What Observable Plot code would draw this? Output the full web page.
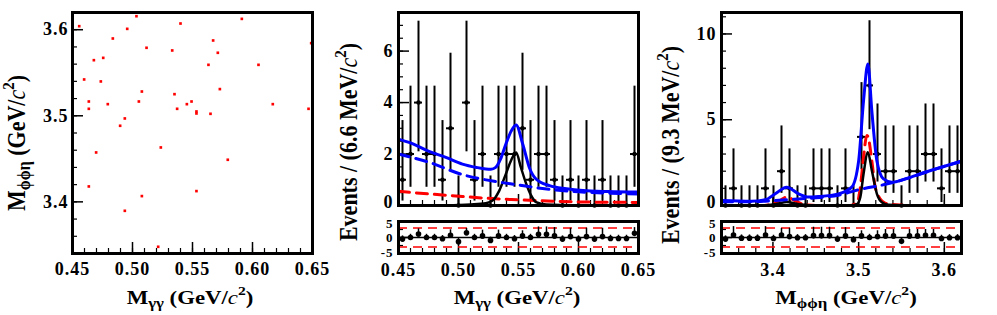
<!DOCTYPE html>
<html><head><meta charset="utf-8">
<script src="https://cdn.jsdelivr.net/npm/d3@7"></script>
<script src="https://cdn.jsdelivr.net/npm/@observablehq/plot@0.6"></script>
<style>
body{margin:0;background:#fff;}
#c{position:relative;width:997px;height:315px;overflow:hidden;background:#fff;}
.p{position:absolute;}
.t{position:absolute;font-family:"Liberation Serif",serif;font-weight:bold;font-size:19px;white-space:nowrap;line-height:1;color:#000;}
.t sub{font-size:14px;vertical-align:-4px;line-height:0;}
.t sup{font-size:13px;vertical-align:9px;line-height:0;}
.t i{font-weight:normal;}
.ty{font-size:22px;}
.ty sub{font-size:16px;}
.ty sup{font-size:15px;vertical-align:10px;}
</style></head>
<body><div id="c"></div>
<script>
// ---------- data ----------
const scatterMgg = [0.4556,0.5033,0.5400,0.5911,0.4956,0.4836,0.5117,0.5331,0.5672,0.5711,0.6489,0.4678,0.4756,0.5633,0.6050,0.4597,0.4736,0.5078,0.5350,0.5728,0.4636,0.5053,0.5492,0.4794,0.5453,0.6169,0.4636,0.5372,0.5533,0.5533,0.5650,0.6467,0.4936,0.4897,0.4697,0.5236,0.5794,0.4636,0.5533,0.5078,0.4936,0.5214];
const scatterMphi = [3.6041,3.6157,3.6072,3.6126,3.6010,3.5898,3.5790,3.5759,3.5875,3.5732,3.5844,3.5646,3.5673,3.5592,3.5592,3.5422,3.5399,3.5282,3.5251,3.5310,3.5166,3.5166,3.5166,3.5135,3.5135,3.5135,3.5081,3.5081,3.5050,3.5027,3.5023,3.5081,3.4969,3.4884,3.4574,3.4632,3.4489,3.4179,3.4125,3.4067,3.3896,3.3478];

const mggRange = [0.45, 0.65];
const mphiRange = [3.34, 3.62];
const midCounts = [1,2,4,2,2,1,3,0,4,1,2,0,2,2,2,3,1,2,2,1,0,1,0,1,0,1,0,0,0,2];
const rightCounts = [0,1,0,0,0,1,0,2,1,0,0,1,1,1,0,1,0,4,7,3,2,2,0,2,2,3,3,1,2,2];
// Poisson 68% interval bounds for n = 0..7
const poisLo = [0,0.173,0.708,1.367,2.086,2.840,3.620,4.419];
const poisHi = [1.148,3.300,4.638,5.918,7.163,8.382,9.584,10.77];

const midPull   = [-0.5,0,1.1,0,0,-0.4,0.7,-1.3,1.5,0,0.5,-0.9,0.5,0,-0.4,0.5,0,1.0,1.0,0.5,-0.5,0.3,-0.5,0.3,-0.5,0.3,-0.3,-0.3,-0.3,1.3];
const midPullUp = [1,1,1.6,1,1,1,1.7,1,1.3,1,1.8,1,1.8,1,1,1.6,1,2.3,2.3,2.6,1,2.6,1,2.6,1,2.6,1,1,1,1.8];
const rightPull   = [-0.5,0.8,-0.2,-0.2,-0.2,0.8,-0.3,0.8,0.3,-0.1,-0.1,0.6,0.6,0.6,-0.5,0.5,-0.7,0.5,0,0.3,0.5,0.5,-1.2,0.5,0.5,0.7,0.7,-0.3,-0.1,-0.1];
const rightPullUp = [1,2.6,1,1,1,2.6,1,2.0,2.6,1,1,2.6,2.6,2.6,1,2.6,1,1.6,1,1.8,2.0,2.0,1,2.0,2.0,1.8,1.8,1,1,1];

const midTotal = [[0.45,2.58],[0.46,2.43],[0.4754,2.10],[0.49,1.86],[0.5033,1.61],[0.515,1.48],[0.5228,1.42],[0.527,1.41],[0.531,1.48],[0.535,1.8],[0.5395,2.39],[0.544,2.9],[0.548,3.13],[0.5535,2.39],[0.559,1.48],[0.5646,1.03],[0.5758,0.77],[0.59,0.65],[0.6037,0.58],[0.625,0.54],[0.65,0.52]];
const midBkg = [[0.45,2.0],[0.4754,1.68],[0.5033,1.2],[0.531,0.93],[0.55,0.8],[0.57,0.66],[0.60,0.53],[0.625,0.48],[0.65,0.45]];
const midRed = [[0.45,0.55],[0.4754,0.45],[0.5033,0.35],[0.531,0.26],[0.55,0.22],[0.5646,0.19],[0.60,0.14],[0.65,0.12]];
const midSig = [[0.45,0],[0.49,0.01],[0.51,0.04],[0.5228,0.09],[0.5284,0.19],[0.534,0.58],[0.5395,1.23],[0.544,1.77],[0.548,2.06],[0.552,1.48],[0.556,0.9],[0.5605,0.39],[0.5646,0.13],[0.573,0.04],[0.60,0.01],[0.65,0]];

const rightTotal = [[3.34,0.29],[3.375,0.25],[3.391,0.33],[3.4027,0.68],[3.416,1.07],[3.4299,0.68],[3.4416,0.49],[3.453,0.52],[3.4765,0.68],[3.492,1.07],[3.500,2.6],[3.5057,6.1],[3.5108,8.25],[3.5154,5.5],[3.5213,2.6],[3.529,1.55],[3.5387,1.36],[3.5543,1.55],[3.5777,1.94],[3.62,2.58]];
const rightBkg = [[3.34,0.22],[3.37,0.22],[3.40,0.28],[3.43,0.38],[3.45,0.45],[3.4765,0.6],[3.50,0.92],[3.53,1.22],[3.555,1.55],[3.58,1.97],[3.62,2.58]];
const rightRed = [[3.34,0],[3.39,0],[3.40,0.1],[3.41,0.35],[3.416,0.5],[3.425,0.3],[3.435,0.08],[3.45,0],[3.49,0],[3.4985,0.2],[3.502,1.07],[3.5057,2.8],[3.5095,4.08],[3.511,4.0],[3.5154,2.6],[3.519,1.17],[3.525,0.39],[3.531,0.14],[3.543,0.04],[3.56,0],[3.62,0]];
const rightSig = [[3.34,0],[3.39,0],[3.405,0.1],[3.416,0.2],[3.43,0.08],[3.45,0],[3.49,0],[3.4985,0.1],[3.502,0.49],[3.5057,1.84],[3.5108,3.1],[3.5154,2.04],[3.5213,0.68],[3.527,0.19],[3.535,0.04],[3.56,0],[3.62,0]];

// tick values
const mggMajor = [0.45,0.50,0.55,0.60,0.65];
const mggMinor = d3.range(0.45,0.6501,0.01);
const mphiMajor = [3.4,3.5,3.6];
const mphiMinor = d3.range(3.34,3.6201,0.02);
const midYMajor = [0,2,4,6];
const midYMinor = d3.range(0,7.51,0.5);
const rightYMajor = [0,5,10];
const rightYMinor = d3.range(0,11.1,1);
const pullMajor = [-5,0,5];
const pullMinor = d3.range(-5,5.1,2.5);

// ---------- helpers ----------
const root = document.getElementById("c");
const baseStyle = {fontFamily:"Liberation Serif, serif",fontSize:"18px",fontWeight:"bold",letterSpacing:"1px",background:"transparent",overflow:"visible",color:"#000"};
function place(svg,left,top){svg.classList.add("p");svg.style.left=left+"px";svg.style.top=top+"px";root.appendChild(svg);}
function ticks(xMaj,xMin,yMaj,yMin,fw,fh){
  return [
    Plot.ruleX(xMaj,{x:d=>d,insetTop:fh-11,stroke:"#000",strokeWidth:1.5}),
    Plot.ruleX(xMin,{x:d=>d,insetTop:fh-5,stroke:"#000",strokeWidth:1.2}),
    Plot.ruleY(yMaj,{y:d=>d,insetRight:fw-11,stroke:"#000",strokeWidth:1.5}),
    Plot.ruleY(yMin,{y:d=>d,insetRight:fw-5,stroke:"#000",strokeWidth:1.2})
  ];
}
function mkBins(range,counts){
  const w=(range[1]-range[0])/counts.length;
  return counts.map((n,i)=>({x:range[0]+(i+0.5)*w,x1:range[0]+i*w,x2:range[0]+(i+1)*w,n,lo:poisLo[n],hi:poisHi[n]}));
}
function mkPulls(range,pull,up){
  const w=(range[1]-range[0])/pull.length;
  return pull.map((p,i)=>({x:range[0]+(i+0.5)*w,p,a:p-(p>0?1:0.3),b:p+up[i]}));
}
const toObj = arr => arr.map(([x,y])=>({x,y}));
const fmtInt = d=>String(d);

// ---------- left scatter ----------
{
  const W=330,H=315,mL=72,mR=18,mT=12,mB=62;
  place(Plot.plot({
    width:W,height:H,marginLeft:mL,marginRight:mR,marginTop:mT,marginBottom:mB,
    style:baseStyle,
    x:{domain:mggRange},y:{domain:mphiRange},
    marks:[
      Plot.axisX(mggMajor,{tickSize:0,tickPadding:9,tickFormat:d3.format(".2f"),label:null}),
      Plot.axisY(mphiMajor,{tickSize:0,tickPadding:4,tickFormat:d3.format(".1f"),label:null}),
      ...ticks(mggMajor,mggMinor,mphiMajor,mphiMinor,W-mL-mR,H-mT-mB),
      Plot.dot(scatterMgg.map((x,i)=>({x,y:scatterMphi[i]})),{x:"x",y:"y",symbol:"square",r:1.5,fill:"#ff0000",stroke:null}),
      Plot.frame({stroke:"#000",strokeWidth:3})
    ]
  }),0,0);
}

// ---------- fit panels ----------
function mainPanel(left,opts){
  const W=310,H=210,mL=opts.mL,mR=W-opts.mL-240,mT=12,mB=5;
  const fw=W-mL-mR,fh=H-mT-mB;
  const bins=mkBins(opts.range,opts.counts);
  const lineOpt={x:"x",y:"y",curve:"monotone-x",clip:true};
  place(Plot.plot({
    width:W,height:H,marginLeft:mL,marginRight:mR,marginTop:mT,marginBottom:mB,
    style:baseStyle,
    x:{domain:opts.range,axis:null},y:{domain:opts.yDomain,axis:null},
    marks:[
      Plot.axisY(opts.yMajor.filter(d=>d!==0),{tickSize:0,tickPadding:5,tickFormat:fmtInt,label:null}),
      Plot.axisY([0],{tickSize:0,tickPadding:5,tickFormat:fmtInt,label:null,dy:-3}),
      ...ticks(opts.xMajor,opts.xMinor,opts.yMajor,opts.yMinor,fw,fh),
      Plot.ruleY([0],{stroke:"#d000d0",strokeWidth:2.5}),
      Plot.ruleX(bins,{x:"x",y1:"lo",y2:"hi",stroke:"#000",strokeWidth:2,clip:true}),
      Plot.ruleY(bins,{y:"n",x1:"x1",x2:"x2",stroke:"#000",strokeWidth:2}),
      Plot.dot(bins,{x:"x",y:"n",r:2.2,fill:"#000",stroke:null}),
      Plot.line(toObj(opts.red),{...lineOpt,stroke:"#ff0000",strokeWidth:3,strokeDasharray:"11,7"}),
      Plot.line(toObj(opts.sig),{...lineOpt,stroke:"#000",strokeWidth:2.5}),
      Plot.line(toObj(opts.bkg),{...lineOpt,stroke:"#0000ff",strokeWidth:3,strokeDasharray:"11,7"}),
      Plot.line(toObj(opts.total),{...lineOpt,stroke:"#0000ff",strokeWidth:3}),
      Plot.frame({stroke:"#000",strokeWidth:3})
    ]
  }),left,0);
}
function pullPanel(left,opts){
  const W=310,H=105,mL=opts.mL,mR=W-opts.mL-240,mT=11,mB=62;
  const fw=W-mL-mR,fh=H-mT-mB;
  const pulls=mkPulls(opts.range,opts.pull,opts.up);
  const yl={tickSize:0,tickPadding:5,tickFormat:fmtInt,label:null,fontSize:13};
  place(Plot.plot({
    width:W,height:H,marginLeft:mL,marginRight:mR,marginTop:mT,marginBottom:mB,
    style:baseStyle,
    x:{domain:opts.range,axis:null},y:{domain:[-5,5],axis:null},
    marks:[
      Plot.axisX(opts.xMajor,{tickSize:0,tickPadding:10,tickFormat:d3.format(opts.fmt),label:null}),
      Plot.axisY([5],{...yl,dy:2}),
      Plot.axisY([0],yl),
      Plot.axisY([-5],{...yl,dy:-1}),
      ...ticks(opts.xMajor,opts.xMinor,pullMajor,pullMinor,fw,fh),
      Plot.ruleY([3,-3],{stroke:"#ff0000",strokeWidth:1.5,strokeDasharray:"9,6"}),
      Plot.ruleY([0],{stroke:"#000",strokeWidth:1.5}),
      Plot.ruleX(pulls,{x:"x",y1:"a",y2:"b",stroke:"#000",strokeWidth:1.5,clip:true}),
      Plot.dot(pulls,{x:"x",y:"p",r:2.8,fill:"#000",stroke:null}),
      Plot.frame({stroke:"#000",strokeWidth:3})
    ]
  }),left,210);
}

mainPanel(340,{mL:58,range:mggRange,counts:midCounts,yDomain:[0,7.5],yMajor:midYMajor,yMinor:midYMinor,xMajor:mggMajor,xMinor:mggMinor,
  red:midRed,sig:midSig,bkg:midBkg,total:midTotal});
pullPanel(340,{mL:58,range:mggRange,pull:midPull,up:midPullUp,xMajor:mggMajor,xMinor:mggMinor,fmt:".2f"});
mainPanel(660,{mL:61,range:mphiRange,counts:rightCounts,yDomain:[0,11.25],yMajor:rightYMajor,yMinor:rightYMinor,xMajor:mphiMajor,xMinor:mphiMinor,
  red:rightRed,sig:rightSig,bkg:rightBkg,total:rightTotal});
pullPanel(660,{mL:61,range:mphiRange,pull:rightPull,up:rightPullUp,xMajor:mphiMajor,xMinor:mphiMinor,fmt:".1f"});

// ---------- titles ----------
function title(html,cx,cy,rot,cls){
  const d=document.createElement("div");d.className="t"+(cls?" "+cls:"");d.innerHTML=html;
  d.style.left=cx+"px";d.style.top=cy+"px";
  d.style.transform="translate(-50%,-50%)"+(rot?" scaleX(1.15) rotate(-90deg)":" scaleX(1.2)");
  root.appendChild(d);
}
title('M<sub>γγ</sub> (GeV/<i>c</i><sup>2</sup>)',190,297);
title('M<sub>γγ</sub> (GeV/<i>c</i><sup>2</sup>)',517,297);
title('M<sub>ϕϕη</sub> (GeV/<i>c</i><sup>2</sup>)',846,297);
title('M<sub>ϕϕη</sub> (GeV/<i>c</i><sup>2</sup>)',17,143,true,"ty");
title('Events / (6.6 MeV/<i>c</i><sup>2</sup>)',349,142,true,"ty");
title('Events / (9.3 MeV/<i>c</i><sup>2</sup>)',671,145,true,"ty");
</script></body></html>
